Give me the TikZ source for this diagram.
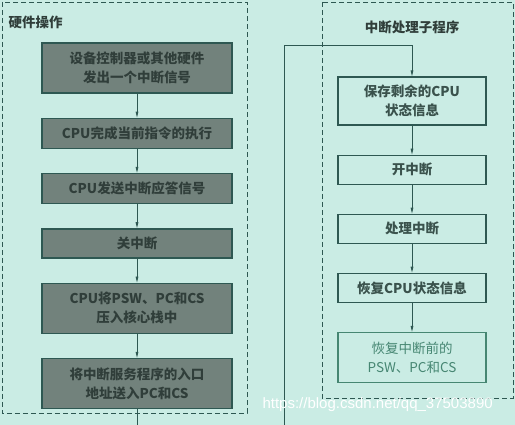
\documentclass[tikz,border=0pt]{standalone}
\usepackage{fontspec}
\setmainfont{Noto Sans CJK SC}
\newfontfamily\urlfont{Liberation Sans}
\usetikzlibrary{arrows.meta,positioning}
\definecolor{mintbg}{RGB}{202,236,228}
\definecolor{lineteal}{RGB}{46,88,82}
\definecolor{hwgrey}{RGB}{114,130,124}
\definecolor{hwtext}{RGB}{48,62,58}
\definecolor{isrtext}{RGB}{58,82,76}
\definecolor{isrlight}{RGB}{70,134,114}

\begin{document}
\begin{tikzpicture}[x=1pt,y=-1pt,node distance=24pt,
  every node/.style={font=\fontsize{13.5}{19}\selectfont\bfseries},
  hw/.style={draw=lineteal,line width=1.3pt,fill=hwgrey,text=hwtext,
             minimum width=190pt,minimum height=30pt,align=center,inner sep=2pt},
  isr/.style={draw=lineteal,line width=1.1pt,fill=mintbg,text=isrtext,
              minimum width=148pt,minimum height=29pt,align=center,inner sep=2pt},
  panel/.style={draw=lineteal,dash pattern=on 5pt off 3pt,line width=0.9pt},
  ar/.style={-{Triangle[length=6pt,width=2.6pt]},lineteal,line width=0.9pt}]

\useasboundingbox[fill=mintbg] (0,0) rectangle (515,425);
\clip (0,0) rectangle (515,425);

% the two dashed frames
\draw[panel] (2,2) rectangle (247,413);
\draw[panel] (322,2) rectangle (513,398);
\node[anchor=west,text=hwtext] (hwtitle) at (5,22) {硬件操作};
\node[text=hwtext] (isrtitle) at (412,27) {中断处理子程序};

% hardware side
\node[hw,minimum height=50pt] (b1) at (137,68) {设备控制器或其他硬件\\发出一个中断信号};
\node[hw,below=of b1] (b2) {CPU完成当前指令的执行};
\node[hw,below=of b2] (b3) {CPU发送中断应答信号};
\node[hw,below=of b3,minimum height=29pt] (b4) {关中断};
\node[hw,below=of b4,minimum height=50pt] (b5) {CPU将PSW、PC和CS\\压入核心栈中};
\node[hw,below=of b5,minimum height=50pt] (b6) {将中断服务程序的入口\\地址送入PC和CS};

% interrupt handler side
\node[isr,minimum height=48pt] (r1) at (412,101) {保存剩余的CPU\\状态信息};
\node[isr,below=29pt of r1] (r2) {开中断};
\node[isr,below=29pt of r2] (r3) {处理中断};
\node[isr,below=29pt of r3] (r4) {恢复CPU状态信息};
\node[isr,below=29pt of r4,minimum height=50pt,draw=isrlight,text=isrlight,
      font=\fontsize{13.5}{19}\selectfont] (r5) {恢复中断前的\\PSW、PC和CS};

\foreach \a/\b in {b1/b2,b2/b3,b3/b4,b4/b5,b5/b6,r1/r2,r2/r3,r3/r4,r4/r5}
  \draw[ar] (\a) -- (\b);
\draw[ar] (b6) -- ++(0,70) -| (284,45) -| (r1);

\node[anchor=west,text=white,font=\urlfont\fontsize{15}{15}\selectfont] (mark) at (259,405)
  {https://blog.csdn.net/qq\_37503890};
\end{tikzpicture}
\end{document}
